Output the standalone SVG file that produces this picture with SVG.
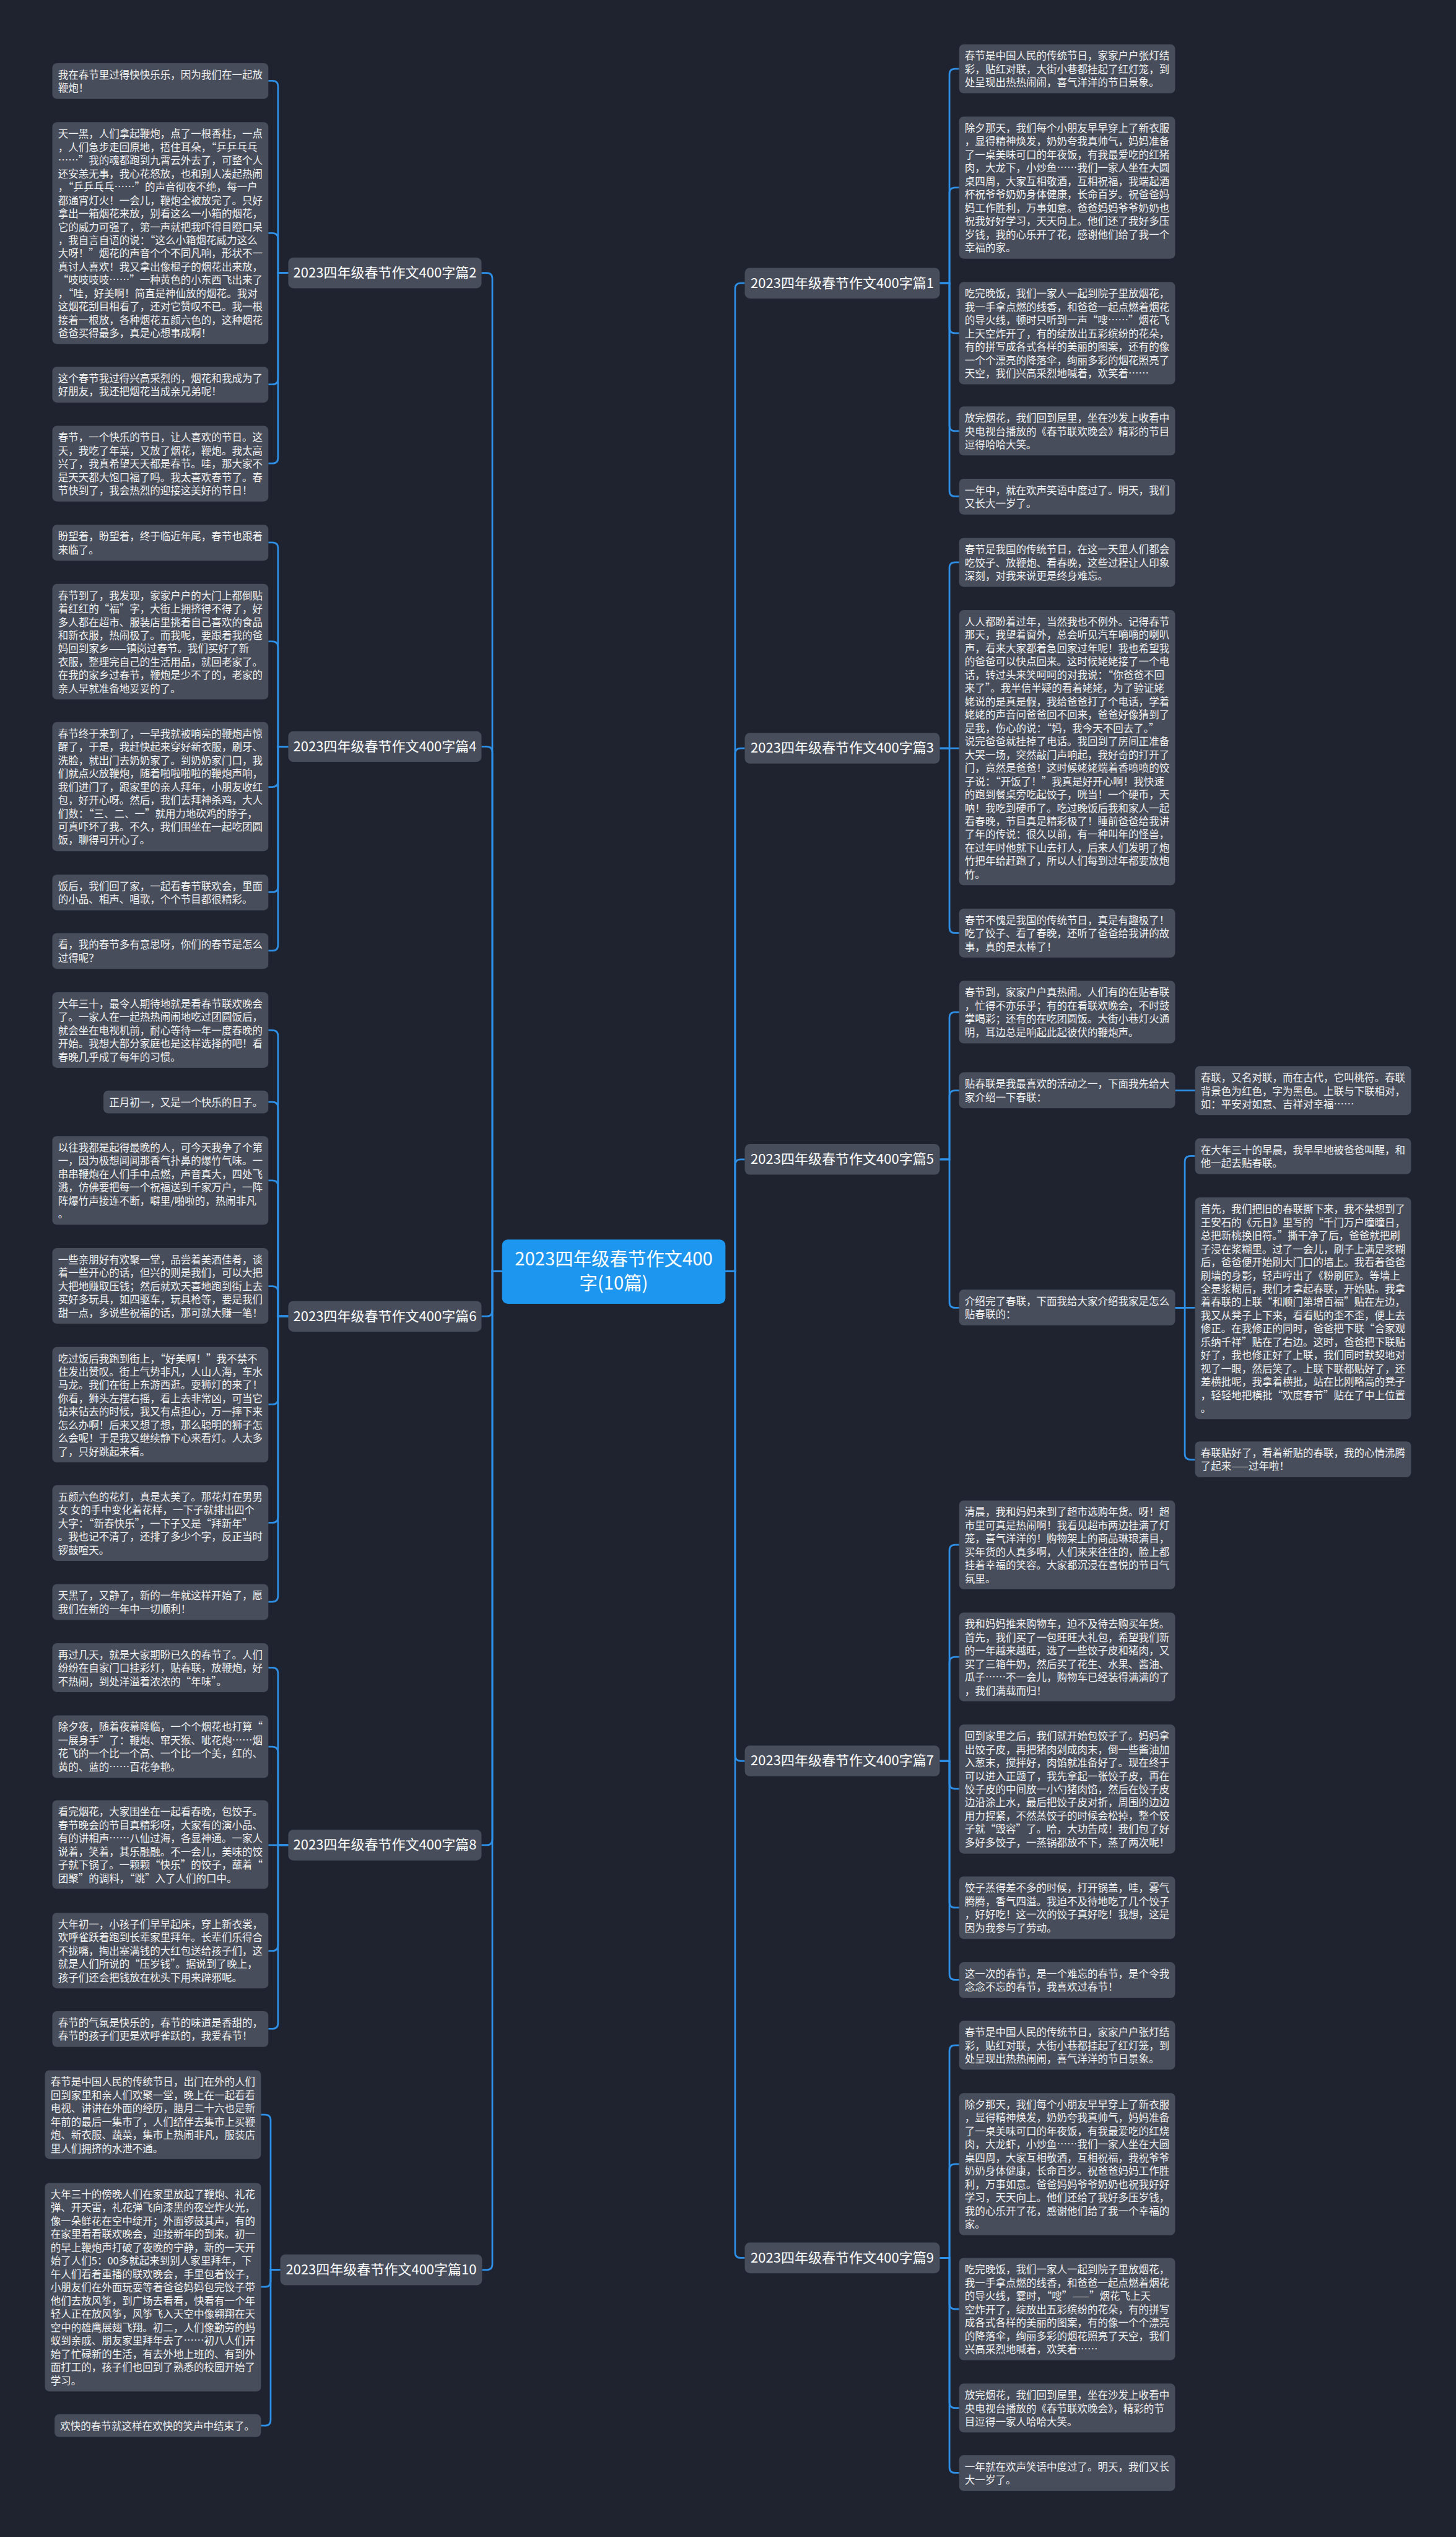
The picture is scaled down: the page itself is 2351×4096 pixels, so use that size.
<svg xmlns="http://www.w3.org/2000/svg" width="2351" height="4096" viewBox="0 0 2351 4096">
<style>
.n{fill:#474d5b}
.t{font-family:"Noto Sans CJK SC","Noto Sans",sans-serif;font-size:18px;fill:#f2f2f2}
.h{font-family:"Noto Sans CJK SC","Noto Sans",sans-serif;font-size:24px;fill:#ffffff;text-anchor:middle}
.m{font-family:"Noto Sans CJK SC","Noto Sans",sans-serif;font-size:32px;fill:#ffffff;text-anchor:middle}
.c path{fill:none;stroke:#2e8fe6;stroke-width:3}
</style>
<rect width="2351" height="4096" fill="#1f2330"/>
<g transform="scale(0.918)">
<g class="c" id="connectors">
<path d="M883 2236H866V490Q866 480 856 480H847"/>
<path d="M883 2236H866V1323Q866 1313 856 1313H847"/>
<path d="M883 2236H866V2305Q866 2315 856 2315H847"/>
<path d="M883 2236H866V3235Q866 3245 856 3245H847"/>
<path d="M883 2236H866V3982Q866 3992 856 3992H848"/>
<path d="M1276 2236H1293V508Q1293 498 1303 498H1310"/>
<path d="M1276 2236H1293V1326Q1293 1316 1303 1316H1310"/>
<path d="M1276 2236H1293V2049Q1293 2039 1303 2039H1310"/>
<path d="M1276 2236H1293V3087Q1293 3097 1303 3097H1310"/>
<path d="M1276 2236H1293V3961Q1293 3971 1303 3971H1310"/>
<path d="M507 480H489V152Q489 142 479 142H472"/>
<path d="M507 480H489V420Q489 410 479 410H472"/>
<path d="M507 480H489V666Q489 676 479 676H472"/>
<path d="M507 480H489V805Q489 815 479 815H472"/>
<path d="M507 1313H489V964Q489 954 479 954H472"/>
<path d="M507 1313H489V1138Q489 1128 479 1128H472"/>
<path d="M507 1313H489V1374Q489 1384 479 1384H472"/>
<path d="M507 1313H489V1559Q489 1569 479 1569H472"/>
<path d="M507 1313H489V1662Q489 1672 479 1672H472"/>
<path d="M507 2315H489V1822Q489 1812 479 1812H472"/>
<path d="M507 2315H489V1948Q489 1938 479 1938H472"/>
<path d="M507 2315H489V2086Q489 2076 479 2076H472"/>
<path d="M507 2315H489V2272Q489 2262 479 2262H472"/>
<path d="M507 2315H489V2460Q489 2470 479 2470H472"/>
<path d="M507 2315H489V2668Q489 2678 479 2678H472"/>
<path d="M507 2315H489V2807Q489 2817 479 2817H472"/>
<path d="M507 3245H489V2943Q489 2933 479 2933H472"/>
<path d="M507 3245H489V3082Q489 3072 479 3072H472"/>
<path d="M507 3245H472"/>
<path d="M507 3245H489V3421Q489 3431 479 3431H472"/>
<path d="M507 3245H489V3558Q489 3568 479 3568H472"/>
<path d="M493 3992H476V3729Q476 3719 466 3719H459"/>
<path d="M493 3992H476V4012Q476 4022 466 4022H459"/>
<path d="M493 3992H476V4256Q476 4266 466 4266H459"/>
<path d="M1653 498H1670V131Q1670 121 1680 121H1687"/>
<path d="M1653 498H1670V340Q1670 330 1680 330H1687"/>
<path d="M1653 498H1670V576Q1670 586 1680 586H1687"/>
<path d="M1653 498H1670V748Q1670 758 1680 758H1687"/>
<path d="M1653 498H1670V863Q1670 873 1680 873H1687"/>
<path d="M1653 1316H1670V999Q1670 989 1680 989H1687"/>
<path d="M1653 1316H1687"/>
<path d="M1653 1316H1670V1631Q1670 1641 1680 1641H1687"/>
<path d="M1653 2039H1670V1790Q1670 1780 1680 1780H1687"/>
<path d="M1653 2039H1670V1928Q1670 1918 1680 1918H1687"/>
<path d="M1653 2039H1670V2290Q1670 2300 1680 2300H1687"/>
<path d="M2067 1918H2102"/>
<path d="M2067 2300H2084V2043Q2084 2033 2094 2033H2102"/>
<path d="M2067 2300H2102"/>
<path d="M2067 2300H2084V2557Q2084 2567 2094 2567H2102"/>
<path d="M1653 3097H1670V2727Q1670 2717 1680 2717H1687"/>
<path d="M1653 3097H1670V2924Q1670 2914 1680 2914H1687"/>
<path d="M1653 3097H1670V3136Q1670 3146 1680 3146H1687"/>
<path d="M1653 3097H1670V3345Q1670 3355 1680 3355H1687"/>
<path d="M1653 3097H1670V3472Q1670 3482 1680 3482H1687"/>
<path d="M1653 3971H1670V3607Q1670 3597 1680 3597H1687"/>
<path d="M1653 3971H1670V3816Q1670 3806 1680 3806H1687"/>
<path d="M1653 3971H1670V4051Q1670 4061 1680 4061H1687"/>
<path d="M1653 3971H1670V4225Q1670 4235 1680 4235H1687"/>
<path d="M1653 3971H1670V4339Q1670 4349 1680 4349H1687"/>
</g>

<g id="root"><rect x="883" y="2180" width="393" height="113" rx="10" fill="#1c96ee"/><text class="m" x="1079.5" y="2226">2023四年级春节作文400</text><text class="m" x="1079.5" y="2268">字(10篇)</text></g>

<g id="p1"><rect class="n" x="1310" y="471" width="343" height="54" rx="9"/><text class="h" x="1481.5" y="506">2023四年级春节作文400字篇1</text></g>
<g id="p3"><rect class="n" x="1310" y="1289" width="343" height="54" rx="9"/><text class="h" x="1481.5" y="1324">2023四年级春节作文400字篇3</text></g>
<g id="p5"><rect class="n" x="1310" y="2012" width="343" height="54" rx="9"/><text class="h" x="1481.5" y="2047">2023四年级春节作文400字篇5</text></g>
<g id="p7"><rect class="n" x="1310" y="3070" width="343" height="54" rx="9"/><text class="h" x="1481.5" y="3105">2023四年级春节作文400字篇7</text></g>
<g id="p9"><rect class="n" x="1310" y="3944" width="343" height="54" rx="9"/><text class="h" x="1481.5" y="3979">2023四年级春节作文400字篇9</text></g>
<g id="p2"><rect class="n" x="507" y="453" width="340" height="54" rx="9"/><text class="h" x="677" y="488">2023四年级春节作文400字篇2</text></g>
<g id="p4"><rect class="n" x="507" y="1286" width="340" height="54" rx="9"/><text class="h" x="677" y="1321">2023四年级春节作文400字篇4</text></g>
<g id="p6"><rect class="n" x="507" y="2288" width="340" height="54" rx="9"/><text class="h" x="677" y="2323">2023四年级春节作文400字篇6</text></g>
<g id="p8"><rect class="n" x="507" y="3218" width="340" height="54" rx="9"/><text class="h" x="677" y="3253">2023四年级春节作文400字篇8</text></g>
<g id="p10"><rect class="n" x="493" y="3965" width="355" height="54" rx="9"/><text class="h" x="670.5" y="4000">2023四年级春节作文400字篇10</text></g>

<g id="a1"><rect class="n" x="92" y="111" width="380" height="63" rx="8"/><text class="t" x="102" y="138"><tspan x="102">我在春节里过得快快乐乐，因为我们在一起放</tspan><tspan x="102" dy="23.4">鞭炮！</tspan></text></g>
<g id="a2"><rect class="n" x="92" y="215" width="380" height="390" rx="8"/><text class="t" x="102" y="242"><tspan x="102">天一黑，人们拿起鞭炮，点了一根香柱，一点</tspan><tspan x="102" dy="23.4">，人们急步走回原地，捂住耳朵，“乒乒乓乓</tspan><tspan x="102" dy="23.4">……”我的魂都跑到九霄云外去了，可整个人</tspan><tspan x="102" dy="23.4">还安恙无事，我心花怒放，也和别人凑起热闹</tspan><tspan x="102" dy="23.4">，“乒乒乓乓……”的声音彻夜不绝，每一户</tspan><tspan x="102" dy="23.4">都通宵灯火！一会儿，鞭炮全被放完了。只好</tspan><tspan x="102" dy="23.4">拿出一箱烟花来放，别看这么一小箱的烟花，</tspan><tspan x="102" dy="23.4">它的威力可强了，第一声就把我吓得目瞪口呆</tspan><tspan x="102" dy="23.4">，我自言自语的说：“这么小箱烟花威力这么</tspan><tspan x="102" dy="23.4">大呀！”烟花的声音个个不同凡响，形状不一</tspan><tspan x="102" dy="23.4">真讨人喜欢！我又拿出像棍子的烟花出来放，</tspan><tspan x="102" dy="23.4">“吱吱吱吱……”一种黄色的小东西飞出来了</tspan><tspan x="102" dy="23.4">，“哇，好美啊！简直是神仙放的烟花。我对</tspan><tspan x="102" dy="23.4">这烟花刮目相看了，还对它赞叹不已。我一根</tspan><tspan x="102" dy="23.4">接着一根放，各种烟花五颜六色的，这种烟花</tspan><tspan x="102" dy="23.4">爸爸买得最多，真是心想事成啊！</tspan></text></g>
<g id="a3"><rect class="n" x="92" y="645" width="380" height="63" rx="8"/><text class="t" x="102" y="672"><tspan x="102">这个春节我过得兴高采烈的，烟花和我成为了</tspan><tspan x="102" dy="23.4">好朋友，我还把烟花当成亲兄弟呢！</tspan></text></g>
<g id="a4"><rect class="n" x="92" y="749" width="380" height="133" rx="8"/><text class="t" x="102" y="776"><tspan x="102">春节，一个快乐的节日，让人喜欢的节日。这</tspan><tspan x="102" dy="23.4">天，我吃了年菜，又放了烟花，鞭炮。我太高</tspan><tspan x="102" dy="23.4">兴了，我真希望天天都是春节。哇，那大家不</tspan><tspan x="102" dy="23.4">是天天都大饱口福了吗。我太喜欢春节了。春</tspan><tspan x="102" dy="23.4">节快到了，我会热烈的迎接这美好的节日！</tspan></text></g>

<g id="b1"><rect class="n" x="92" y="923" width="380" height="63" rx="8"/><text class="t" x="102" y="950"><tspan x="102">盼望着，盼望着，终于临近年尾，春节也跟着</tspan><tspan x="102" dy="23.4">来临了。</tspan></text></g>
<g id="b2"><rect class="n" x="92" y="1027" width="380" height="203" rx="8"/><text class="t" x="102" y="1054"><tspan x="102">春节到了，我发现，家家户户的大门上都倒贴</tspan><tspan x="102" dy="23.4">着红红的“福”字，大街上拥挤得不得了，好</tspan><tspan x="102" dy="23.4">多人都在超市、服装店里挑着自己喜欢的食品</tspan><tspan x="102" dy="23.4">和新衣服，热闹极了。而我呢，要跟着我的爸</tspan><tspan x="102" dy="23.4">妈回到家乡——镇岗过春节。我们买好了新</tspan><tspan x="102" dy="23.4">衣服，整理完自己的生活用品，就回老家了。</tspan><tspan x="102" dy="23.4">在我的家乡过春节，鞭炮是少不了的，老家的</tspan><tspan x="102" dy="23.4">亲人早就准备地妥妥的了。</tspan></text></g>
<g id="b3"><rect class="n" x="92" y="1270" width="380" height="227" rx="8"/><text class="t" x="102" y="1297"><tspan x="102">春节终于来到了，一早我就被响亮的鞭炮声惊</tspan><tspan x="102" dy="23.4">醒了，于是，我赶快起来穿好新衣服，刷牙、</tspan><tspan x="102" dy="23.4">洗脸，就出门去奶奶家了。到奶奶家门口，我</tspan><tspan x="102" dy="23.4">们就点火放鞭炮，随着啪啦啪啦的鞭炮声响，</tspan><tspan x="102" dy="23.4">我们进门了，跟家里的亲人拜年，小朋友收红</tspan><tspan x="102" dy="23.4">包，好开心呀。然后，我们去拜神杀鸡，大人</tspan><tspan x="102" dy="23.4">们数：“三、二、一”就用力地砍鸡的脖子，</tspan><tspan x="102" dy="23.4">可真吓坏了我。不久，我们围坐在一起吃团圆</tspan><tspan x="102" dy="23.4">饭，聊得可开心了。</tspan></text></g>
<g id="b4"><rect class="n" x="92" y="1538" width="380" height="63" rx="8"/><text class="t" x="102" y="1565"><tspan x="102">饭后，我们回了家，一起看春节联欢会，里面</tspan><tspan x="102" dy="23.4">的小品、相声、唱歌，个个节目都很精彩。</tspan></text></g>
<g id="b5"><rect class="n" x="92" y="1641" width="380" height="63" rx="8"/><text class="t" x="102" y="1668"><tspan x="102">看，我的春节多有意思呀，你们的春节是怎么</tspan><tspan x="102" dy="23.4">过得呢？</tspan></text></g>

<g id="c1"><rect class="n" x="92" y="1745" width="380" height="133" rx="8"/><text class="t" x="102" y="1772"><tspan x="102">大年三十，最令人期待地就是看春节联欢晚会</tspan><tspan x="102" dy="23.4">了。一家人在一起热热闹闹地吃过团圆饭后，</tspan><tspan x="102" dy="23.4">就会坐在电视机前，耐心等待一年一度春晚的</tspan><tspan x="102" dy="23.4">开始。我想大部分家庭也是这样选择的吧！看</tspan><tspan x="102" dy="23.4">春晚几乎成了每年的习惯。</tspan></text></g>
<g id="c2"><rect class="n" x="182" y="1918" width="290" height="40" rx="8"/><text class="t" x="192" y="1945">正月初一，又是一个快乐的日子。</text></g>
<g id="c3"><rect class="n" x="92" y="1998" width="380" height="156" rx="8"/><text class="t" x="102" y="2025"><tspan x="102">以往我都是起得最晚的人，可今天我争了个第</tspan><tspan x="102" dy="23.4">一，因为极想闻闻那香气扑鼻的爆竹气味。一</tspan><tspan x="102" dy="23.4">串串鞭炮在人们手中点燃，声音真大，四处飞</tspan><tspan x="102" dy="23.4">溅，仿佛要把每一个祝福送到千家万户，一阵</tspan><tspan x="102" dy="23.4">阵爆竹声接连不断，噼里/啪啦的，热闹非凡</tspan><tspan x="102" dy="23.4">。</tspan></text></g>
<g id="c4"><rect class="n" x="92" y="2195" width="380" height="133" rx="8"/><text class="t" x="102" y="2222"><tspan x="102">一些亲朋好有欢聚一堂，品尝着美酒佳肴，谈</tspan><tspan x="102" dy="23.4">着一些开心的话，但兴的则是我们，可以大把</tspan><tspan x="102" dy="23.4">大把地赚取压钱；然后就欢天喜地跑到街上去</tspan><tspan x="102" dy="23.4">买好多玩具，如四驱车，玩具枪等，要是我们</tspan><tspan x="102" dy="23.4">甜一点，多说些祝福的话，那可就大赚一笔！</tspan></text></g>
<g id="c5"><rect class="n" x="92" y="2369" width="380" height="203" rx="8"/><text class="t" x="102" y="2396"><tspan x="102">吃过饭后我跑到街上，“好美啊！”我不禁不</tspan><tspan x="102" dy="23.4">住发出赞叹。街上气势非凡，人山人海，车水</tspan><tspan x="102" dy="23.4">马龙。我们在街上东游西逛。耍狮灯的来了！</tspan><tspan x="102" dy="23.4">你看，狮头左摆右摇，看上去非常凶，可当它</tspan><tspan x="102" dy="23.4">钻来钻去的时候，我又有点担心，万一摔下来</tspan><tspan x="102" dy="23.4">怎么办啊！后来又想了想，那么聪明的狮子怎</tspan><tspan x="102" dy="23.4">么会呢！于是我又继续静下心来看灯。人太多</tspan><tspan x="102" dy="23.4">了，只好跳起来看。</tspan></text></g>
<g id="c6"><rect class="n" x="92" y="2612" width="380" height="133" rx="8"/><text class="t" x="102" y="2639"><tspan x="102">五颜六色的花灯，真是太美了。那花灯在男男</tspan><tspan x="102" dy="23.4">女 女的手中变化着花样，一下子就排出四个</tspan><tspan x="102" dy="23.4">大字：“新春快乐”，一下子又是“拜新年”</tspan><tspan x="102" dy="23.4">。我也记不清了，还排了多少个字，反正当时</tspan><tspan x="102" dy="23.4">锣鼓喧天。</tspan></text></g>
<g id="c7"><rect class="n" x="92" y="2786" width="380" height="63" rx="8"/><text class="t" x="102" y="2813"><tspan x="102">天黑了，又静了，新的一年就这样开始了，愿</tspan><tspan x="102" dy="23.4">我们在新的一年中一切顺利！</tspan></text></g>

<g id="d1"><rect class="n" x="92" y="2890" width="380" height="86" rx="8"/><text class="t" x="102" y="2917"><tspan x="102">再过几天，就是大家期盼已久的春节了。人们</tspan><tspan x="102" dy="23.4">纷纷在自家门口挂彩灯，贴春联，放鞭炮，好</tspan><tspan x="102" dy="23.4">不热闹，到处洋溢着浓浓的“年味”。</tspan></text></g>
<g id="d2"><rect class="n" x="92" y="3017" width="380" height="110" rx="8"/><text class="t" x="102" y="3044"><tspan x="102">除夕夜，随着夜幕降临，一个个烟花也打算“</tspan><tspan x="102" dy="23.4">一展身手”了：鞭炮、窜天猴、呲花炮……烟</tspan><tspan x="102" dy="23.4">花飞的一个比一个高、一个比一个美，红的、</tspan><tspan x="102" dy="23.4">黄的、蓝的……百花争艳。</tspan></text></g>
<g id="d3"><rect class="n" x="92" y="3166" width="380" height="156" rx="8"/><text class="t" x="102" y="3193"><tspan x="102">看完烟花，大家围坐在一起看春晚，包饺子。</tspan><tspan x="102" dy="23.4">春节晚会的节目真精彩呀，大家有的演小品、</tspan><tspan x="102" dy="23.4">有的讲相声……八仙过海，各显神通。一家人</tspan><tspan x="102" dy="23.4">说着，笑着，其乐融融。不一会儿，美味的饺</tspan><tspan x="102" dy="23.4">子就下锅了。一颗颗“快乐”的饺子，蘸着“</tspan><tspan x="102" dy="23.4">团聚”的调料，“跳”入了人们的口中。</tspan></text></g>
<g id="d4"><rect class="n" x="92" y="3364" width="380" height="133" rx="8"/><text class="t" x="102" y="3391"><tspan x="102">大年初一，小孩子们早早起床，穿上新衣裳，</tspan><tspan x="102" dy="23.4">欢呼雀跃着跑到长辈家里拜年。长辈们乐得合</tspan><tspan x="102" dy="23.4">不拢嘴，掏出塞满钱的大红包送给孩子们，这</tspan><tspan x="102" dy="23.4">就是人们所说的“压岁钱”。据说到了晚上，</tspan><tspan x="102" dy="23.4">孩子们还会把钱放在枕头下用来辟邪呢。</tspan></text></g>
<g id="d5"><rect class="n" x="92" y="3537" width="380" height="63" rx="8"/><text class="t" x="102" y="3564"><tspan x="102">春节的气氛是快乐的，春节的味道是香甜的，</tspan><tspan x="102" dy="23.4">春节的孩子们更是欢呼雀跃的，我爱春节！</tspan></text></g>

<g id="e1"><rect class="n" x="79" y="3641" width="380" height="156" rx="8"/><text class="t" x="89" y="3668"><tspan x="89">春节是中国人民的传统节日，出门在外的人们</tspan><tspan x="89" dy="23.4">回到家里和亲人们欢聚一堂，晚上在一起看看</tspan><tspan x="89" dy="23.4">电视、讲讲在外面的经历，腊月二十六也是新</tspan><tspan x="89" dy="23.4">年前的最后一集市了，人们结伴去集市上买鞭</tspan><tspan x="89" dy="23.4">炮、新衣服、蔬菜，集市上热闹非凡，服装店</tspan><tspan x="89" dy="23.4">里人们拥挤的水泄不通。</tspan></text></g>
<g id="e2"><rect class="n" x="79" y="3839" width="380" height="367" rx="8"/><text class="t" x="89" y="3866"><tspan x="89">大年三十的傍晚人们在家里放起了鞭炮、礼花</tspan><tspan x="89" dy="23.4">弹、开天雷，礼花弹飞向漆黑的夜空炸火光，</tspan><tspan x="89" dy="23.4">像一朵鲜花在空中绽开；外面锣鼓其声，有的</tspan><tspan x="89" dy="23.4">在家里看看联欢晚会，迎接新年的到来。初一</tspan><tspan x="89" dy="23.4">的早上鞭炮声打破了夜晚的宁静，新的一天开</tspan><tspan x="89" dy="23.4">始了人们5：00多就起来到别人家里拜年，下</tspan><tspan x="89" dy="23.4">午人们看着重播的联欢晚会，手里包着饺子，</tspan><tspan x="89" dy="23.4">小朋友们在外面玩耍等着爸爸妈妈包完饺子带</tspan><tspan x="89" dy="23.4">他们去放风筝，到广场去看看，快看有一个年</tspan><tspan x="89" dy="23.4">轻人正在放风筝，风筝飞入天空中像翱翔在天</tspan><tspan x="89" dy="23.4">空中的雄鹰展翅飞翔。初二，人们像勤劳的蚂</tspan><tspan x="89" dy="23.4">蚁到亲戚、朋友家里拜年去了……初八人们开</tspan><tspan x="89" dy="23.4">始了忙碌新的生活，有去外地上班的、有到外</tspan><tspan x="89" dy="23.4">面打工的，孩子们也回到了熟悉的校园开始了</tspan><tspan x="89" dy="23.4">学习。</tspan></text></g>
<g id="e3"><rect class="n" x="96" y="4246" width="363" height="40" rx="8"/><text class="t" x="106" y="4273">欢快的春节就这样在欢快的笑声中结束了。</text></g>

<g id="r1a"><rect class="n" x="1687" y="78" width="380" height="86" rx="8"/><text class="t" x="1697" y="105"><tspan x="1697">春节是中国人民的传统节日，家家户户张灯结</tspan><tspan x="1697" dy="23.4">彩，贴红对联，大街小巷都挂起了红灯笼，到</tspan><tspan x="1697" dy="23.4">处呈现出热热闹闹，喜气洋洋的节日景象。</tspan></text></g>
<g id="r1b"><rect class="n" x="1687" y="205" width="380" height="250" rx="8"/><text class="t" x="1697" y="232"><tspan x="1697">除夕那天，我们每个小朋友早早穿上了新衣服</tspan><tspan x="1697" dy="23.4">，显得精神焕发，奶奶夸我真帅气，妈妈准备</tspan><tspan x="1697" dy="23.4">了一桌美味可口的年夜饭，有我最爱吃的红猪</tspan><tspan x="1697" dy="23.4">肉，大龙下，小炒鱼……我们一家人坐在大圆</tspan><tspan x="1697" dy="23.4">桌四周，大家互相敬酒，互相祝福，我端起酒</tspan><tspan x="1697" dy="23.4">杯祝爷爷奶奶身体健康，长命百岁。祝爸爸妈</tspan><tspan x="1697" dy="23.4">妈工作胜利，万事如意。爸爸妈妈爷爷奶奶也</tspan><tspan x="1697" dy="23.4">祝我好好学习，天天向上。他们还了我好多压</tspan><tspan x="1697" dy="23.4">岁钱，我的心乐开了花，感谢他们给了我一个</tspan><tspan x="1697" dy="23.4">幸福的家。</tspan></text></g>
<g id="r1c"><rect class="n" x="1687" y="496" width="380" height="180" rx="8"/><text class="t" x="1697" y="523"><tspan x="1697">吃完晚饭，我们一家人一起到院子里放烟花，</tspan><tspan x="1697" dy="23.4">我一手拿点燃的线香，和爸爸一起点燃着烟花</tspan><tspan x="1697" dy="23.4">的导火线，顿时只听到一声“嗖……”烟花飞</tspan><tspan x="1697" dy="23.4">上天空炸开了，有的绽放出五彩缤纷的花朵，</tspan><tspan x="1697" dy="23.4">有的拼写成各式各样的美丽的图案，还有的像</tspan><tspan x="1697" dy="23.4">一个个漂亮的降落伞，绚丽多彩的烟花照亮了</tspan><tspan x="1697" dy="23.4">天空，我们兴高采烈地喊着，欢笑着……</tspan></text></g>
<g id="r1d"><rect class="n" x="1687" y="715" width="380" height="86" rx="8"/><text class="t" x="1697" y="742"><tspan x="1697">放完烟花，我们回到屋里，坐在沙发上收看中</tspan><tspan x="1697" dy="23.4">央电视台播放的《春节联欢晚会》精彩的节目</tspan><tspan x="1697" dy="23.4">逗得哈哈大笑。</tspan></text></g>
<g id="r1e"><rect class="n" x="1687" y="842" width="380" height="63" rx="8"/><text class="t" x="1697" y="869"><tspan x="1697">一年中，就在欢声笑语中度过了。明天，我们</tspan><tspan x="1697" dy="23.4">又长大一岁了。</tspan></text></g>

<g id="r3a"><rect class="n" x="1687" y="946" width="380" height="86" rx="8"/><text class="t" x="1697" y="973"><tspan x="1697">春节是我国的传统节日，在这一天里人们都会</tspan><tspan x="1697" dy="23.4">吃饺子、放鞭炮、看春晚，这些过程让人印象</tspan><tspan x="1697" dy="23.4">深刻，对我来说更是终身难忘。</tspan></text></g>
<g id="r3b"><rect class="n" x="1687" y="1073" width="380" height="484" rx="8"/><text class="t" x="1697" y="1100"><tspan x="1697">人人都盼着过年，当然我也不例外。记得春节</tspan><tspan x="1697" dy="23.4">那天，我望着窗外，总会听见汽车嘀嘀的喇叭</tspan><tspan x="1697" dy="23.4">声，看来大家都着急回家过年呢！我也希望我</tspan><tspan x="1697" dy="23.4">的爸爸可以快点回来。这时候姥姥接了一个电</tspan><tspan x="1697" dy="23.4">话，转过头来笑呵呵的对我说：“你爸爸不回</tspan><tspan x="1697" dy="23.4">来了”。我半信半疑的看着姥姥，为了验证姥</tspan><tspan x="1697" dy="23.4">姥说的是真是假，我给爸爸打了个电话，学着</tspan><tspan x="1697" dy="23.4">姥姥的声音问爸爸回不回来，爸爸好像猜到了</tspan><tspan x="1697" dy="23.4">是我，伤心的说：“妈，我今天不回去了。”</tspan><tspan x="1697" dy="23.4">说完爸爸就挂掉了电话。我回到了房间正准备</tspan><tspan x="1697" dy="23.4">大哭一场，突然敲门声响起，我好奇的打开了</tspan><tspan x="1697" dy="23.4">门，竟然是爸爸！这时候姥姥端着香喷喷的饺</tspan><tspan x="1697" dy="23.4">子说：“开饭了！”我真是好开心啊！我快速</tspan><tspan x="1697" dy="23.4">的跑到餐桌旁吃起饺子，咣当！一个硬币，天</tspan><tspan x="1697" dy="23.4">呐！我吃到硬币了。吃过晚饭后我和家人一起</tspan><tspan x="1697" dy="23.4">看春晚，节目真是精彩极了！睡前爸爸给我讲</tspan><tspan x="1697" dy="23.4">了年的传说：很久以前，有一种叫年的怪兽，</tspan><tspan x="1697" dy="23.4">在过年时他就下山去打人，后来人们发明了炮</tspan><tspan x="1697" dy="23.4">竹把年给赶跑了，所以人们每到过年都要放炮</tspan><tspan x="1697" dy="23.4">竹。</tspan></text></g>
<g id="r3c"><rect class="n" x="1687" y="1598" width="380" height="86" rx="8"/><text class="t" x="1697" y="1625"><tspan x="1697">春节不愧是我国的传统节日，真是有趣极了！</tspan><tspan x="1697" dy="23.4">吃了饺子、看了春晚，还听了爸爸给我讲的故</tspan><tspan x="1697" dy="23.4">事，真的是太棒了！</tspan></text></g>

<g id="r5a"><rect class="n" x="1687" y="1725" width="380" height="110" rx="8"/><text class="t" x="1697" y="1752"><tspan x="1697">春节到，家家户户真热闹。人们有的在贴春联</tspan><tspan x="1697" dy="23.4">，忙得不亦乐乎；有的在看联欢晚会，不时鼓</tspan><tspan x="1697" dy="23.4">掌喝彩；还有的在吃团圆饭。大街小巷灯火通</tspan><tspan x="1697" dy="23.4">明，耳边总是响起此起彼伏的鞭炮声。</tspan></text></g>
<g id="r5b"><rect class="n" x="1687" y="1886" width="380" height="63" rx="8"/><text class="t" x="1697" y="1913"><tspan x="1697">贴春联是我最喜欢的活动之一，下面我先给大</tspan><tspan x="1697" dy="23.4">家介绍一下春联：</tspan></text></g>
<g id="r5b1"><rect class="n" x="2102" y="1875" width="380" height="86" rx="8"/><text class="t" x="2112" y="1902"><tspan x="2112">春联，又名对联，而在古代，它叫桃符。春联</tspan><tspan x="2112" dy="23.4">背景色为红色，字为黑色。上联与下联相对，</tspan><tspan x="2112" dy="23.4">如：平安对如意、吉祥对幸福……</tspan></text></g>
<g id="r5c"><rect class="n" x="1687" y="2268" width="380" height="63" rx="8"/><text class="t" x="1697" y="2295"><tspan x="1697">介绍完了春联，下面我给大家介绍我家是怎么</tspan><tspan x="1697" dy="23.4">贴春联的：</tspan></text></g>
<g id="r5c1"><rect class="n" x="2102" y="2002" width="380" height="63" rx="8"/><text class="t" x="2112" y="2029"><tspan x="2112">在大年三十的早晨，我早早地被爸爸叫醒，和</tspan><tspan x="2112" dy="23.4">他一起去贴春联。</tspan></text></g>
<g id="r5c2"><rect class="n" x="2102" y="2106" width="380" height="390" rx="8"/><text class="t" x="2112" y="2133"><tspan x="2112">首先，我们把旧的春联撕下来，我不禁想到了</tspan><tspan x="2112" dy="23.4">王安石的《元日》里写的“千门万户曈曈日，</tspan><tspan x="2112" dy="23.4">总把新桃换旧符。”撕干净了后，爸爸就把刷</tspan><tspan x="2112" dy="23.4">子浸在浆糊里。过了一会儿，刷子上满是浆糊</tspan><tspan x="2112" dy="23.4">后，爸爸便开始刷大门口的墙上。我看着爸爸</tspan><tspan x="2112" dy="23.4">刷墙的身影，轻声哼出了《粉刷匠》。等墙上</tspan><tspan x="2112" dy="23.4">全是浆糊后，我们才拿起春联，开始贴。我拿</tspan><tspan x="2112" dy="23.4">着春联的上联“和顺门第增百福”贴在左边，</tspan><tspan x="2112" dy="23.4">我又从凳子上下来，看看贴的歪不歪，便上去</tspan><tspan x="2112" dy="23.4">修正。在我修正的同时，爸爸把下联“合家观</tspan><tspan x="2112" dy="23.4">乐纳千祥”贴在了右边。这时，爸爸把下联贴</tspan><tspan x="2112" dy="23.4">好了，我也修正好了上联，我们同时默契地对</tspan><tspan x="2112" dy="23.4">视了一眼，然后笑了。上联下联都贴好了，还</tspan><tspan x="2112" dy="23.4">差横批呢，我拿着横批，站在比刚略高的凳子</tspan><tspan x="2112" dy="23.4">，轻轻地把横批“欢度春节”贴在了中上位置</tspan><tspan x="2112" dy="23.4">。</tspan></text></g>
<g id="r5c3"><rect class="n" x="2102" y="2535" width="380" height="63" rx="8"/><text class="t" x="2112" y="2562"><tspan x="2112">春联贴好了，看着新贴的春联，我的心情沸腾</tspan><tspan x="2112" dy="23.4">了起来——过年啦！</tspan></text></g>

<g id="r7a"><rect class="n" x="1687" y="2639" width="380" height="156" rx="8"/><text class="t" x="1697" y="2666"><tspan x="1697">清晨，我和妈妈来到了超市选购年货。呀！超</tspan><tspan x="1697" dy="23.4">市里可真是热闹啊！我看见超市两边挂满了灯</tspan><tspan x="1697" dy="23.4">笼，喜气洋洋的！购物架上的商品琳琅满目，</tspan><tspan x="1697" dy="23.4">买年货的人真多啊，人们来来往往的，脸上都</tspan><tspan x="1697" dy="23.4">挂着幸福的笑容。大家都沉浸在喜悦的节日气</tspan><tspan x="1697" dy="23.4">氛里。</tspan></text></g>
<g id="r7b"><rect class="n" x="1687" y="2836" width="380" height="156" rx="8"/><text class="t" x="1697" y="2863"><tspan x="1697">我和妈妈推来购物车，迫不及待去购买年货。</tspan><tspan x="1697" dy="23.4">首先，我们买了一包旺旺大礼包，希望我们新</tspan><tspan x="1697" dy="23.4">的一年越来越旺，选了一些饺子皮和猪肉，又</tspan><tspan x="1697" dy="23.4">买了三箱牛奶，然后买了花生、水果、酱油、</tspan><tspan x="1697" dy="23.4">瓜子……不一会儿，购物车已经装得满满的了</tspan><tspan x="1697" dy="23.4">，我们满载而归！</tspan></text></g>
<g id="r7c"><rect class="n" x="1687" y="3033" width="380" height="227" rx="8"/><text class="t" x="1697" y="3060"><tspan x="1697">回到家里之后，我们就开始包饺子了。妈妈拿</tspan><tspan x="1697" dy="23.4">出饺子皮，再把猪肉剁成肉末，倒一些酱油加</tspan><tspan x="1697" dy="23.4">入葱末，搅拌好，肉馅就准备好了。现在终于</tspan><tspan x="1697" dy="23.4">可以进入正题了，我先拿起一张饺子皮，再在</tspan><tspan x="1697" dy="23.4">饺子皮的中间放一小勺猪肉馅，然后在饺子皮</tspan><tspan x="1697" dy="23.4">边沿涂上水，最后把饺子皮对折，周围的边边</tspan><tspan x="1697" dy="23.4">用力捏紧，不然蒸饺子的时候会松掉，整个饺</tspan><tspan x="1697" dy="23.4">子就“毁容”了。哈，大功告成！我们包了好</tspan><tspan x="1697" dy="23.4">多好多饺子，一蒸锅都放不下，蒸了两次呢！</tspan></text></g>
<g id="r7d"><rect class="n" x="1687" y="3300" width="380" height="110" rx="8"/><text class="t" x="1697" y="3327"><tspan x="1697">饺子蒸得差不多的时候，打开锅盖，哇，雾气</tspan><tspan x="1697" dy="23.4">腾腾，香气四溢。我迫不及待地吃了几个饺子</tspan><tspan x="1697" dy="23.4">，好好吃！这一次的饺子真好吃！我想，这是</tspan><tspan x="1697" dy="23.4">因为我参与了劳动。</tspan></text></g>
<g id="r7e"><rect class="n" x="1687" y="3451" width="380" height="63" rx="8"/><text class="t" x="1697" y="3478"><tspan x="1697">这一次的春节，是一个难忘的春节，是个令我</tspan><tspan x="1697" dy="23.4">念念不忘的春节，我喜欢过春节！</tspan></text></g>

<g id="r9a"><rect class="n" x="1687" y="3554" width="380" height="86" rx="8"/><text class="t" x="1697" y="3581"><tspan x="1697">春节是中国人民的传统节日，家家户户张灯结</tspan><tspan x="1697" dy="23.4">彩，贴红对联，大街小巷都挂起了红灯笼，到</tspan><tspan x="1697" dy="23.4">处呈现出热热闹闹，喜气洋洋的节日景象。</tspan></text></g>
<g id="r9b"><rect class="n" x="1687" y="3681" width="380" height="250" rx="8"/><text class="t" x="1697" y="3708"><tspan x="1697">除夕那天，我们每个小朋友早早穿上了新衣服</tspan><tspan x="1697" dy="23.4">，显得精神焕发，奶奶夸我真帅气，妈妈准备</tspan><tspan x="1697" dy="23.4">了一桌美味可口的年夜饭，有我最爱吃的红烧</tspan><tspan x="1697" dy="23.4">肉，大龙虾，小炒鱼……我们一家人坐在大圆</tspan><tspan x="1697" dy="23.4">桌四周，大家互相敬酒，互相祝福，我祝爷爷</tspan><tspan x="1697" dy="23.4">奶奶身体健康，长命百岁。祝爸爸妈妈工作胜</tspan><tspan x="1697" dy="23.4">利，万事如意。爸爸妈妈爷爷奶奶也祝我好好</tspan><tspan x="1697" dy="23.4">学习，天天向上。他们还给了我好多压岁钱，</tspan><tspan x="1697" dy="23.4">我的心乐开了花，感谢他们给了我一个幸福的</tspan><tspan x="1697" dy="23.4">家。</tspan></text></g>
<g id="r9c"><rect class="n" x="1687" y="3971" width="380" height="180" rx="8"/><text class="t" x="1697" y="3998"><tspan x="1697">吃完晚饭，我们一家人一起到院子里放烟花，</tspan><tspan x="1697" dy="23.4">我一手拿点燃的线香，和爸爸一起点燃着烟花</tspan><tspan x="1697" dy="23.4">的导火线，霎时，“嗖”——”烟花飞上天</tspan><tspan x="1697" dy="23.4">空炸开了，绽放出五彩缤纷的花朵，有的拼写</tspan><tspan x="1697" dy="23.4">成各式各样的美丽的图案，有的像一个个漂亮</tspan><tspan x="1697" dy="23.4">的降落伞，绚丽多彩的烟花照亮了天空，我们</tspan><tspan x="1697" dy="23.4">兴高采烈地喊着，欢笑着……</tspan></text></g>
<g id="r9d"><rect class="n" x="1687" y="4192" width="380" height="86" rx="8"/><text class="t" x="1697" y="4219"><tspan x="1697">放完烟花，我们回到屋里，坐在沙发上收看中</tspan><tspan x="1697" dy="23.4">央电视台播放的《春节联欢晚会》，精彩的节</tspan><tspan x="1697" dy="23.4">目逗得一家人哈哈大笑。</tspan></text></g>
<g id="r9e"><rect class="n" x="1687" y="4318" width="380" height="63" rx="8"/><text class="t" x="1697" y="4345"><tspan x="1697">一年就在欢声笑语中度过了。明天，我们又长</tspan><tspan x="1697" dy="23.4">大一岁了。</tspan></text></g>
</g>
</svg>
